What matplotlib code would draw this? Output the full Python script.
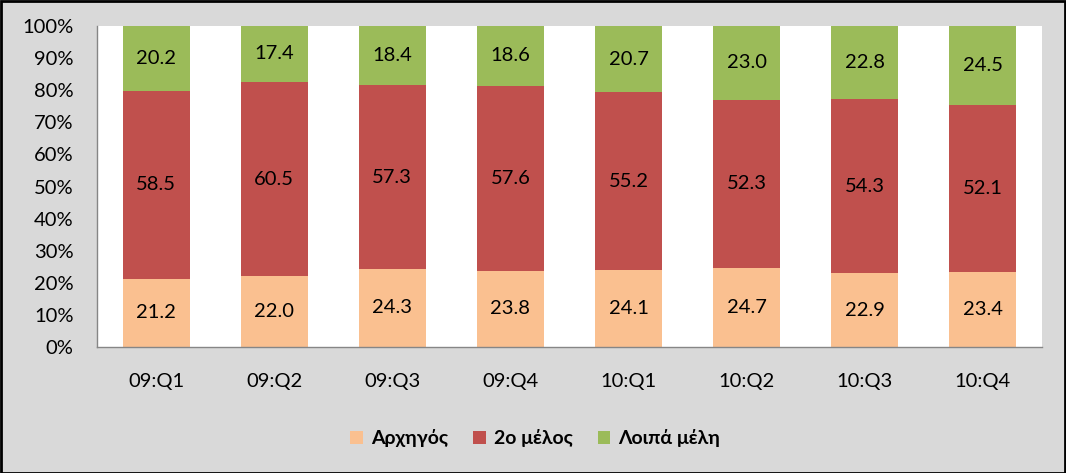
import matplotlib
matplotlib.use("Agg")
import matplotlib.pyplot as plt
import numpy as np

categories = ["09:Q1", "09:Q2", "09:Q3", "09:Q4", "10:Q1", "10:Q2", "10:Q3", "10:Q4"]
series_names = ["Αρχηγός", "2ο μέλος", "Λοιπά μέλη"]
archigos = [21.2, 22.0, 24.3, 23.8, 24.1, 24.7, 22.9, 23.4]
deftero = [58.5, 60.5, 57.3, 57.6, 55.2, 52.3, 54.3, 52.1]
loipa = [20.2, 17.4, 18.4, 18.6, 20.7, 23.0, 22.8, 24.5]
colors = ["#FAC090", "#C0504D", "#9BBB59"]

plt.rcParams['font.family'] = ['Lato', 'DejaVu Sans']

fig = plt.figure(figsize=(10.66, 4.73), dpi=100, facecolor="#D9D9D9")
ax = fig.add_axes([0.091, 0.2664, 0.8865, 0.6786])
ax.set_facecolor("white")

data = np.array([archigos, deftero, loipa])
totals = data.sum(axis=0)
pct = data / totals * 100
x = np.arange(len(categories))
bottom = np.zeros(len(categories))
handles = []
for i, name in enumerate(series_names):
    b = ax.bar(x, pct[i], bottom=bottom, width=0.567, color=colors[i], label=name, zorder=2)
    handles.append(b)
    for xi, val, bt, h in zip(x, data[i], bottom, pct[i]):
        ax.text(xi, bt + h / 2, f"{val:.1f}", ha="center", va="center", fontsize=14.5, color="black")
    bottom += pct[i]

ax.set_xlim(-0.5, len(categories) - 0.5)
ax.set_ylim(0, 100)
ax.set_yticks(np.arange(0, 101, 10))
ax.set_yticklabels([f"{v}%" for v in range(0, 101, 10)], fontsize=14.5)
ax.set_xticks(x)
ax.set_xticklabels(categories, fontsize=14.5)
ax.tick_params(axis='x', length=0, pad=19)
ax.tick_params(axis='y', length=0, pad=17)
for s in ["top", "right"]:
    ax.spines[s].set_visible(False)
for s in ["left", "bottom"]:
    ax.spines[s].set_color("#868686")
    ax.spines[s].set_linewidth(1)

leg = fig.legend(handles=handles, labels=series_names, loc="center", bbox_to_anchor=(0.502, 0.074),
                 ncol=3, frameon=False, prop={'weight': 'bold', 'size': 14},
                 handlelength=0.65, handleheight=0.65, handletextpad=0.4, columnspacing=1.3)

border = plt.Rectangle((0.001, 0.001), 0.998, 0.997, transform=fig.transFigure, fill=False,
                       edgecolor="black", linewidth=2)
fig.patches.append(border)

fig.savefig("out.png", dpi=100, facecolor=fig.get_facecolor())
